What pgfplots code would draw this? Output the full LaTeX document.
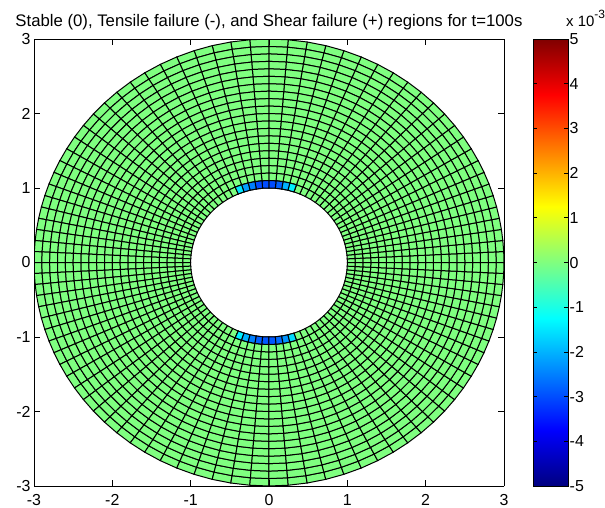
\documentclass[border=0pt]{standalone}
\usepackage{fontspec}
\setmainfont{Liberation Sans}
\usepackage{pgfplots}
\usepackage{pgfplotstable}
\pgfplotsset{compat=1.18}

% failure indicator of the inner-ring cells near the top (theta in degrees, r, value x 10^-3)
\pgfplotstableread{
t r c
71.419 1.0 -1.4
76.009 1.0 -2.0
80.646 1.0 -2.8
85.315 1.0 -3.0
90.000 1.0 -3.0
94.685 1.0 -3.0
99.354 1.0 -2.5
103.991 1.0 -2.2
108.581 1.0 -1.5
113.110 1.0 -1.5
71.419 1.1 -1.4
76.009 1.1 -2.0
80.646 1.1 -2.8
85.315 1.1 -3.0
90.000 1.1 -3.0
94.685 1.1 -3.0
99.354 1.1 -2.5
103.991 1.1 -2.2
108.581 1.1 -1.5
113.110 1.1 -1.5
}\celltop
% ... and near the bottom
\pgfplotstableread{
t r c
246.890 1.0 -1.4
251.419 1.0 -2.0
256.009 1.0 -2.5
260.646 1.0 -2.8
265.315 1.0 -2.9
270.000 1.0 -2.9
274.685 1.0 -2.7
279.354 1.0 -2.3
283.991 1.0 -1.6
288.581 1.0 -1.6
246.890 1.1 -1.4
251.419 1.1 -2.0
256.009 1.1 -2.5
260.646 1.1 -2.8
265.315 1.1 -2.9
270.000 1.1 -2.9
274.685 1.1 -2.7
279.354 1.1 -2.3
283.991 1.1 -1.6
288.581 1.1 -1.6
}\cellbot

\begin{document}
\begin{tikzpicture}
\begin{axis}[
  at={(34bp,22bp)}, anchor=south west,
  scale only axis, width=470bp, height=447bp,
  view={0}{90},
  xmin=-3, xmax=3, ymin=-3, ymax=3, zmin=-1, zmax=1,
  enlargelimits=false,
  xtick={-3,-2,...,3}, ytick={-3,-2,...,3}, ztick=\empty,
  tick align=inside, major tick length=6bp,
  xtick pos=both, ytick pos=both,
  /pgf/number format/assume math mode=true,
  ticklabel style={font=\fontsize{16}{16}\selectfont},
  xticklabel style={yshift=-5bp},
  axis line style={black, line width=0.8pt},
  every tick/.style={black, line width=0.8pt},
  axis on top,
  colormap/jet,
  colormap access=map,
  point meta min=-5, point meta max=5,
  title={Stable (0), Tensile failure (-), and Shear failure (+) regions for t=100s},
  title style={font=\fontsize{16.8}{17}\selectfont, yshift=0bp},
  colorbar,
  colorbar/width=35bp,
  colorbar style={
    at={(parent axis.north east)}, anchor=north west, xshift=21bp,
    scale only axis, width=35bp, height=447bp,
    ytick={-5,-4,...,5}, yticklabel pos=right,
    ytick align=inside, major tick length=4bp,
    yticklabel style={font=\fontsize{16}{16}\selectfont, inner xsep=1bp},
    /pgf/number format/assume math mode=true,
    axis line style={black, line width=0.8pt},
    every tick/.style={black, line width=0.8pt},
  },
]
\addplot3[surf, shader=faceted, faceted color=black, line width=1pt,
  samples at={0,2.815,5.646,8.509,11.419,14.39,17.436,20.568,23.797,27.133,30.582,34.149,37.838,41.649,45.582,49.633,53.797,58.068,62.436,66.89,71.419,76.009,80.646,85.315,90,94.685,99.354,103.991,108.581,113.11,117.564,121.932,126.203,130.367,134.418,138.351,142.162,145.851,149.418,152.867,156.203,159.432,162.564,165.61,168.581,171.491,174.354,177.185,180,182.815,185.646,188.509,191.419,194.39,197.436,200.568,203.797,207.133,210.582,214.149,217.838,221.649,225.582,229.633,233.797,238.068,242.436,246.89,251.419,256.009,260.646,265.315,270,274.685,279.354,283.991,288.581,293.11,297.564,301.932,306.203,310.367,314.418,318.351,322.162,325.851,329.418,332.867,336.203,339.432,342.564,345.61,348.581,351.491,354.354,357.185,360},
  y domain=1:3, samples y=21]
  ({y*cos(x)}, {y*sin(x)}, 0);
\addplot3[surf, shader=flat corner, draw=black, line width=1pt,
  mesh/rows=2, mesh/cols=10, point meta=explicit]
  table[x expr={\thisrow{r}*cos(\thisrow{t})}, y expr={\thisrow{r}*sin(\thisrow{t})}, z expr=0, meta=c] {\celltop};
\addplot3[surf, shader=flat corner, draw=black, line width=1pt,
  mesh/rows=2, mesh/cols=10, point meta=explicit]
  table[x expr={\thisrow{r}*cos(\thisrow{t})}, y expr={\thisrow{r}*sin(\thisrow{t})}, z expr=0, meta=c] {\cellbot};
\end{axis}
\node[anchor=base west, font=\fontsize{15}{15}\selectfont, inner sep=0pt] at (566bp,481bp) {x 10\raisebox{8bp}{\fontsize{12}{12}\selectfont -3}};
\pgfresetboundingbox
\useasboundingbox (0,0) rectangle (605bp,508bp);
\end{tikzpicture}
\end{document}
